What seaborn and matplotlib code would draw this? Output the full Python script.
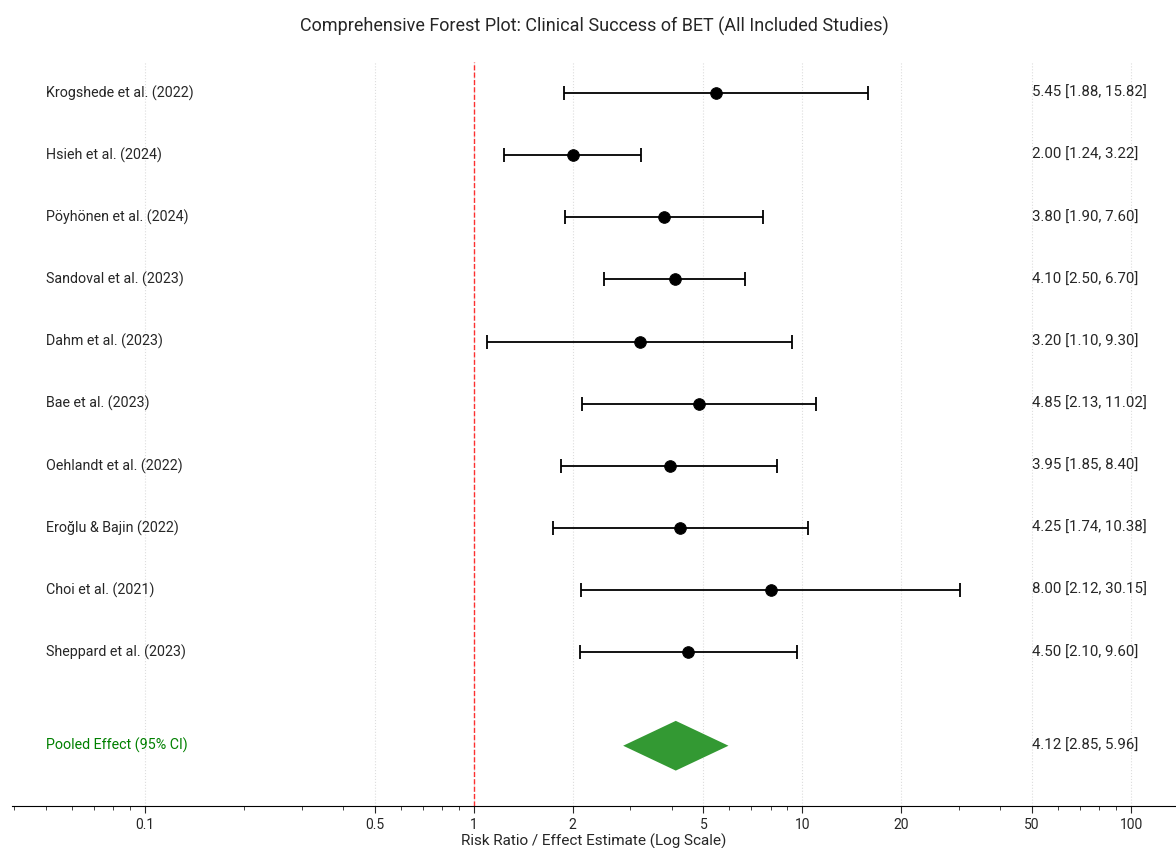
import numpy as np
import pandas as pd
import matplotlib
matplotlib.use('Agg')
import matplotlib.pyplot as plt
import seaborn as sns

studies = ['Krogshede et al. (2022)', 'Hsieh et al. (2024)', 'Pöyhönen et al. (2024)',
           'Sandoval et al. (2023)', 'Dahm et al. (2023)', 'Bae et al. (2023)',
           'Oehlandt et al. (2022)', 'Eroğlu & Bajin (2022)', 'Choi et al. (2021)',
           'Sheppard et al. (2023)']
rr = [5.45, 2.00, 3.80, 4.10, 3.20, 4.85, 3.95, 4.25, 8.00, 4.50]
lower = [1.88, 1.24, 1.90, 2.50, 1.10, 2.13, 1.85, 1.74, 2.12, 2.10]
upper = [15.82, 3.22, 7.60, 6.70, 9.30, 11.02, 8.40, 10.38, 30.15, 9.60]

pooled_rr = 4.12
pooled_lower = 2.85
pooled_upper = 5.96

tick_vals = [0.1, 0.5, 1, 2, 5, 10, 20, 50, 100]
tick_labels = ['0.1', '0.5', '1', '2', '5', '10', '20', '50', '100']

df = pd.DataFrame({'study': studies, 'rr': rr, 'lower': lower, 'upper': upper})
df['y'] = np.arange(len(df), 0, -1)

sns.set_style('whitegrid')
plt.rcParams['font.family'] = ['Roboto', 'DejaVu Sans']

fig, ax = plt.subplots(figsize=(11.76, 8.48), dpi=100)
fig.subplots_adjust(left=0.0102, right=1.0, bottom=0.0495, top=0.927)

# confidence intervals
ax.errorbar(df['rr'], df['y'],
            xerr=[df['rr'] - df['lower'], df['upper'] - df['rr']],
            fmt='none', ecolor='black', elinewidth=1.3, capsize=5, capthick=1.3, zorder=3)
sns.scatterplot(data=df, x='rr', y='y', color='black', s=70, edgecolor='black',
                zorder=4, ax=ax, legend=False)

# pooled diamond
py = -0.5
ax.fill([pooled_lower, pooled_rr, pooled_upper, pooled_rr],
        [py, py + 0.4, py, py - 0.4], color='#339933', zorder=3, lw=0)

ax.axvline(1, color='red', linestyle='--', linewidth=1, alpha=0.8, zorder=2)

# labels on both sides
for _, r in df.iterrows():
    ax.text(0.05, r['y'], r['study'], va='center', ha='left', fontsize=10.3)
    ax.text(50, r['y'], f"{r['rr']:.2f} [{r['lower']:.2f}, {r['upper']:.2f}]",
            va='center', ha='left', fontsize=10.8)
ax.text(0.05, py, 'Pooled Effect (95% CI)', va='center', ha='left', fontsize=10.3, color='green')
ax.text(50, py, f"{pooled_rr:.2f} [{pooled_lower:.2f}, {pooled_upper:.2f}]",
        va='center', ha='left', fontsize=10.8)

ax.set_xscale('log')
ax.set_xlim(0.0394, 137)
ax.set_ylim(-1.47, 10.5)
ax.set_xticks(tick_vals)
ax.set_xticklabels(tick_labels)
ax.set_yticks([])
ax.set_ylabel('')
ax.tick_params(axis='x', which='both', bottom=True, direction='out', labelsize=10)
ax.tick_params(axis='x', which='major', length=5)
ax.tick_params(axis='x', which='minor', length=3)
ax.grid(axis='x', which='major', linestyle=':', color='#dddddd', linewidth=0.8)
ax.grid(axis='y', visible=False)
for s in ['top', 'right', 'left']:
    ax.spines[s].set_visible(False)
ax.spines['bottom'].set_color('black')

ax.set_xlabel('Risk Ratio / Effect Estimate (Log Scale)', fontsize=11, labelpad=1)
ax.set_title('Comprehensive Forest Plot: Clinical Success of BET (All Included Studies)',
             fontsize=13, pad=22)

fig.savefig('out.png', dpi=100)
